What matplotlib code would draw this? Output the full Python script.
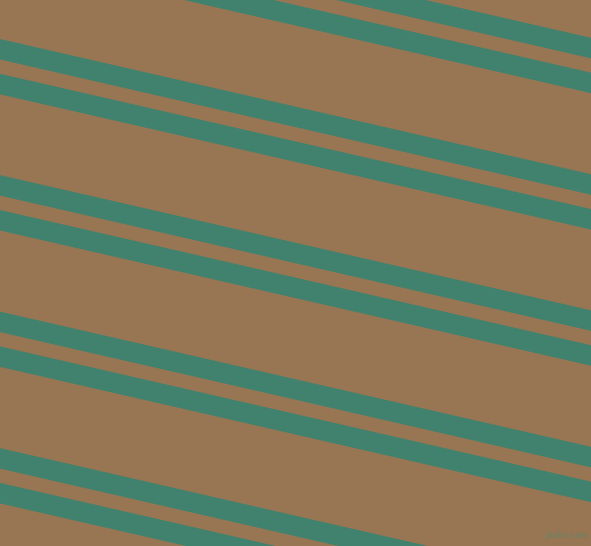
import matplotlib
matplotlib.use("Agg")
import matplotlib.pyplot as plt
import numpy as np

# Data: stripe top edges at the left border (y in pixels), slope and thickness
stripe_left_tops = [-97.4, -62.6, 39.0, 73.8, 175.1, 210.0, 311.6, 346.4, 448.1, 482.9]
stripe_thickness = 20.5
stripe_slope = 0.2288
bg_color = "#987654"
stripe_color = "#40826D"
W, H = 591, 546

fig = plt.figure(figsize=(W / 100, H / 100), dpi=100)
ax = fig.add_axes([0, 0, 1, 1])
ax.set_xlim(0, W)
ax.set_ylim(H, 0)
ax.axis("off")
fig.patch.set_facecolor(bg_color)
ax.set_facecolor(bg_color)

x = np.array([0, W])
for y0 in stripe_left_tops:
    top = y0 + stripe_slope * x
    ax.fill_between(x, top, top + stripe_thickness, color=stripe_color, linewidth=0)

ax.text(567, 536, "pixlis.com", fontsize=5.5, color="#6f8062", ha="center", va="center",
        family="DejaVu Sans", fontweight="bold", alpha=0.8)

fig.savefig("out.png", dpi=100, facecolor=bg_color)
